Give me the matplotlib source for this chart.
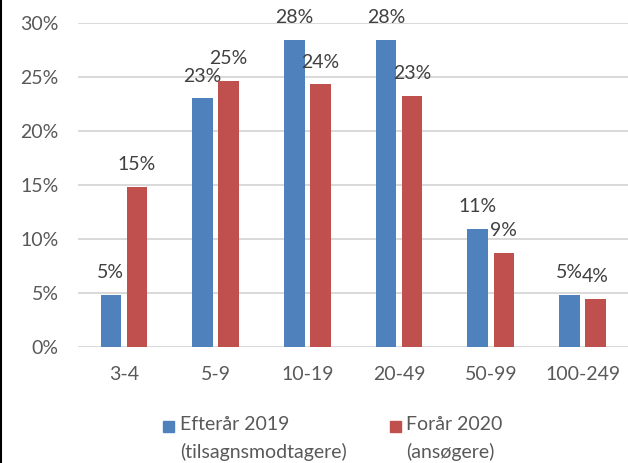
import numpy as np
import matplotlib
matplotlib.use('Agg')
import matplotlib.pyplot as plt
from matplotlib.patches import Rectangle
from matplotlib.lines import Line2D

categories = ['3-4', '5-9', '10-19', '20-49', '50-99', '100-249']
efteraar_2019 = [4.8, 23.0, 28.4, 28.4, 10.9, 4.8]
foraar_2020 = [14.8, 24.6, 24.3, 23.2, 8.7, 4.4]
series_labels = ['Efterår 2019\n(tilsagnsmodtagere)', 'Forår 2020\n(ansøgere)']
yticks = [0, 5, 10, 15, 20, 25, 30]

blue = '#4F81BD'
red = '#C0504D'
tick_color = '#595959'
label_color = '#404040'
grid_color = '#D9D9D9'

plt.rcParams['font.family'] = ['Lato', 'DejaVu Sans']
fs = 14

fig = plt.figure(figsize=(6.28, 4.63), dpi=100)
ax = fig.add_axes([0.1242, 0.2512, 0.8765, 0.6998])

x = np.arange(len(categories))
width = 0.225
off = 0.142
series = [efteraar_2019, foraar_2020]
colors = [blue, red]

for vals, sign, col in zip(series, (-1, 1), colors):
    bars = ax.bar(x + sign * off, vals, width, color=col, zorder=3)
    for b, v in zip(bars, vals):
        ax.annotate('%.0f%%' % v, (b.get_x() + b.get_width() / 2, v),
                    xytext=(0, 16), textcoords='offset points',
                    ha='center', va='center', fontsize=fs, color=label_color)

ax.set_xlim(-0.5, len(categories) - 0.5)
ax.set_ylim(0, 30)
ax.set_yticks(yticks)
ax.set_yticklabels(['%d%%' % t for t in yticks])
ax.set_xticks(x)
ax.set_xticklabels(categories)
ax.tick_params(axis='y', length=0, pad=14, labelsize=fs, labelcolor=tick_color)
ax.tick_params(axis='x', length=0, pad=14, labelsize=fs, labelcolor=tick_color)
ax.grid(axis='y', color=grid_color, linewidth=1.4, zorder=0)
for s in ax.spines.values():
    s.set_visible(False)

# legend, drawn by hand so the square sits on the first line like in Excel
legend_x = [(163, 180), (390, 406)]
for (sq_x, tx), lab, col in zip(legend_x, series_labels, colors):
    fig.add_artist(Rectangle((sq_x / 628, (463 - 432) / 463), 11 / 628, 11 / 463,
                             transform=fig.transFigure, color=col))
    lines = lab.split('\n')
    fig.text(tx / 628, (463 - 425) / 463, lines[0], ha='left', va='center',
             fontsize=fs, color=tick_color)
    fig.text(tx / 628, (463 - 452) / 463, lines[1], ha='left', va='center',
             fontsize=fs, color=tick_color)

fig.add_artist(Line2D([0.0015, 0.0015], [0, 1], transform=fig.transFigure,
                      color='black', linewidth=1.5))

fig.savefig('out.png', dpi=100)
